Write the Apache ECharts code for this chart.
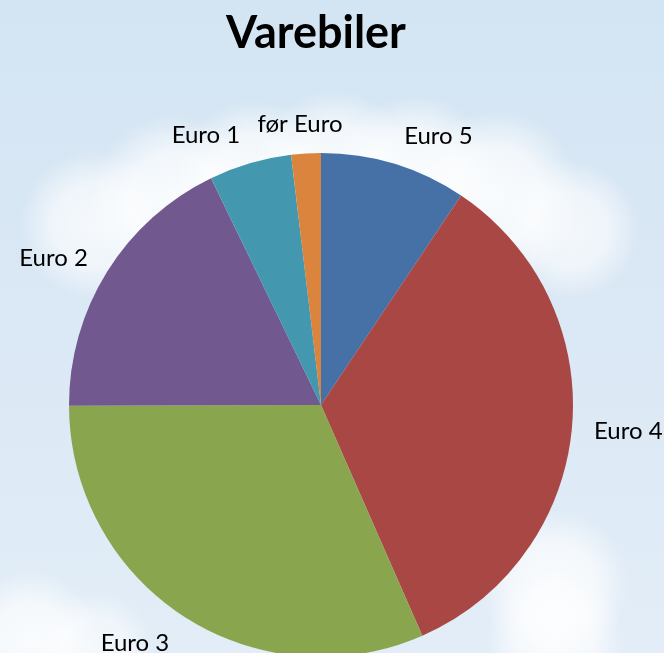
<!DOCTYPE html>
<html>
<head>
<meta charset="utf-8">
<script src="https://cdn.jsdelivr.net/npm/echarts@6/dist/echarts.min.js"></script>
<style>
    html, body { margin: 0; padding: 0; }
    #chart { width: 664px; height: 653px; }
</style>
</head>
<body>
<div id="chart"></div>
<script>
// slices clockwise from 12 o'clock, as in the original sheet
const categories = ['Euro 5', 'Euro 4', 'Euro 3', 'Euro 2', 'Euro 1', 'før Euro']
const shares = [9.4, 34.1, 31.6, 17.9, 5.3, 1.9]
const colors = ['#4571a7', '#a94745', '#89a54e', '#71588f', '#4397ae', '#db843d']

const center = [321, 405]
const radius = 252

const chart = echarts.init(document.getElementById('chart'))

// soft white puff for the sky picture behind the chart
function cloud(cx, cy, r, alpha) {
    return {
        type: 'circle',
        z: 0,
        silent: true,
        shape: { cx: cx, cy: cy, r: r },
        style: {
            fill: {
                type: 'radial', x: 0.5, y: 0.5, r: 0.5,
                colorStops: [
                    { offset: 0, color: 'rgba(255,255,255,' + alpha + ')' },
                    { offset: 0.55, color: 'rgba(255,255,255,' + alpha * 0.8 + ')' },
                    { offset: 1, color: 'rgba(255,255,255,0)' }
                ]
            }
        }
    }
}

chart.setOption({
    backgroundColor: {
        type: 'linear', x: 0, y: 0, x2: 0, y2: 1,
        colorStops: [
            { offset: 0, color: '#d3e5f3' },
            { offset: 0.5, color: '#dbe8f5' },
            { offset: 1, color: '#e2edf7' }
        ]
    },
    graphic: [
        cloud(95, 225, 75, 0.75),
        cloud(175, 200, 85, 0.85),
        cloud(255, 180, 80, 0.85),
        cloud(335, 170, 80, 0.85),
        cloud(415, 175, 80, 0.85),
        cloud(495, 195, 85, 0.85),
        cloud(570, 230, 70, 0.7),
        cloud(555, 585, 75, 0.8),
        cloud(555, 640, 70, 0.8),
        cloud(30, 640, 70, 0.8),
        cloud(95, 650, 60, 0.6)
    ],
    title: {
        text: 'Varebiler',
        left: 311,
        textAlign: 'center',
        top: 6,
        textStyle: {
            fontFamily: 'Lato',
            fontWeight: 'bold',
            fontSize: 45,
            color: '#000'
        }
    },
    series: [{
        type: 'pie',
        center: center,
        radius: radius,
        startAngle: 90,
        clockwise: true,
        avoidLabelOverlap: false,
        animation: false,
        label: {
            show: true,
            position: 'outside',
            formatter: '{b}',
            fontFamily: 'Lato',
            fontSize: 24,
            color: '#000'
        },
        labelLine: { show: false, length: 17, length2: 0 },
        // push each label box away from its anchor point like the spreadsheet does
        labelLayout: function (params) {
            const r = params.labelRect
            const mx = r.x + r.width / 2
            const my = r.y + r.height / 2
            const d = Math.hypot(mx - center[0], my - center[1]) || 1
            const sy = (my - center[1]) / d
            const res = { dy: sy * r.height * 0.6 + 2 }
            if (Math.abs(mx - center[0]) < r.width * 0.8) {
                res.align = 'center'
            }
            return res
        },
        itemStyle: { borderWidth: 0 },
        emphasis: { disabled: true },
        data: categories.map((name, i) => ({
            name: name,
            value: shares[i],
            itemStyle: { color: colors[i] }
        }))
    }]
})
</script>
</body>
</html>
